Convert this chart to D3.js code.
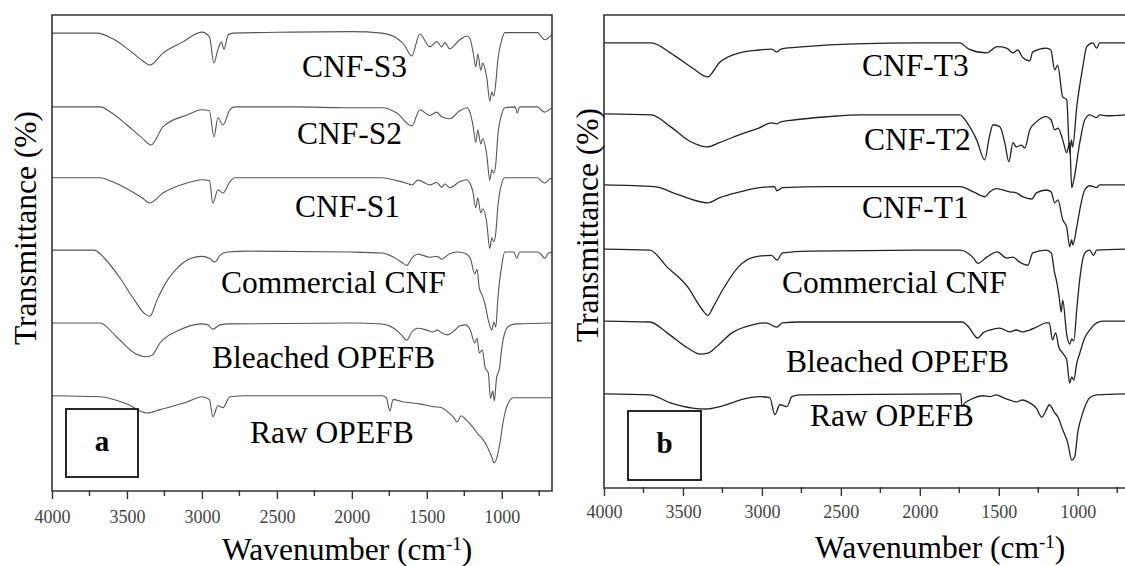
<!DOCTYPE html>
<html>
<head>
<meta charset="utf-8">
<script src="https://cdn.jsdelivr.net/npm/d3@7"></script>
<style>
  body { margin: 0; background: #fff; }
  svg { display: block; }
  text { font-family: "Liberation Serif", "Times New Roman", serif; }
</style>
</head>
<body>
<div id="container"></div>
<script>
// tick values shared by both panels
const majorTicks = [4000, 3500, 3000, 2500, 2000, 1500, 1000];
const minorTicks = [3750, 3250, 2750, 2250, 1750, 1250, 750];

// panel a : sulfuric acid series, [wavenumber, change in transmittance]
const samplesA = ["CNF-S3", "CNF-S2", "CNF-S1", "Commercial CNF", "Bleached OPEFB", "Raw OPEFB"];
const offsetsA = [96.2, 80.7, 65.8, 50.6, 35.3, 20.0];

const cnfS3 = [[4000,0],[3700,0],[3600,-1.1],[3500,-3.2],[3400,-5.7],[3347,-6.7],[3260,-4.2],[3130,-1.9],[3000,0.2],[2950,-0.8],[2920,-6.3],[2895,-3.6],[2870,-1.9],[2853,-3.4],[2825,-0.4],[2790,0],[2400,0.2],[2000,0.3],[1800,0],[1700,-1.1],[1650,-2.5],[1600,-4.8],[1547,-0.2],[1480,-2.9],[1433,-1.8],[1400,-2.9],[1380,-2.0],[1347,-3.3],[1280,-1.4],[1233,-0.6],[1213,-1.1],[1193,-3.7],[1173,-7.1],[1160,-4.4],[1140,-7.8],[1127,-6.3],[1100,-9.4],[1080,-14.3],[1067,-12.4],[1053,-13.2],[1040,-10.5],[1027,-5.9],[1000,-1.4],[980,0.1],[760,0.1],[740,-0.6],[713,-1.4],[693,-1.1],[667,-0.3]];
const cnfS2 = [[4000,0],[3680,0],[3600,-1.3],[3500,-3.8],[3400,-6.5],[3340,-8.0],[3260,-4.2],[3100,-1.7],[3000,-0.6],[2950,-0.8],[2920,-6.3],[2893,-2.3],[2860,-3.8],[2813,-0.6],[2780,0],[2400,0],[2000,-0.2],[1800,-0.2],[1700,-1.3],[1600,-4.0],[1547,-0.6],[1480,-1.8],[1433,-1.1],[1400,-2.1],[1347,-2.5],[1280,-0.8],[1233,-0.2],[1213,-1.1],[1193,-3.7],[1173,-7.5],[1160,-4.8],[1140,-7.8],[1127,-6.7],[1100,-10.1],[1080,-15.4],[1067,-13.2],[1053,-13.9],[1040,-12.0],[1027,-6.3],[1000,-1.5],[980,-0.2],[910,0],[897,-1.3],[880,0],[760,0],[740,-0.6],[713,-1.1],[693,-0.8],[667,-0.2]];
const cnfS1 = [[4000,0],[3680,0],[3600,-0.8],[3500,-2.3],[3400,-4.2],[3347,-5.3],[3260,-3.2],[3100,-1.1],[3000,-0.4],[2950,-0.6],[2927,-5.3],[2893,-2.5],[2860,-3.2],[2813,-0.8],[2780,0],[2400,0],[1800,0],[1700,-0.6],[1630,-1.2],[1600,-1.5],[1560,-0.5],[1480,-1.5],[1433,-1.0],[1400,-2.0],[1380,-1.3],[1347,-2.1],[1280,-0.8],[1233,-0.4],[1213,-1.1],[1193,-2.9],[1173,-6.3],[1160,-4.2],[1140,-7.4],[1127,-6.5],[1100,-9.5],[1080,-14.9],[1067,-12.6],[1053,-13.4],[1040,-11.6],[1027,-6.3],[1000,-1.1],[980,0],[760,0],[740,-0.6],[713,-1.1],[693,-0.6],[667,0]];
const commercialA = [[4000,0],[3720,0],[3650,-1.7],[3550,-5.7],[3450,-10.5],[3380,-13.4],[3347,-13.9],[3300,-10.5],[3230,-6.3],[3160,-3.6],[3100,-2.1],[3000,-1.3],[2950,-1.7],[2913,-2.5],[2880,-1.1],[2830,-0.4],[2700,-0.2],[2000,-0.4],[1800,-0.6],[1720,-1.5],[1670,-2.5],[1633,-3.2],[1600,-1.7],[1560,-0.8],[1480,-1.5],[1430,-1.3],[1400,-1.9],[1350,-0.8],[1300,-0.4],[1250,-0.6],[1210,-1.7],[1180,-5.0],[1165,-4.0],[1150,-8.0],[1130,-9.5],[1110,-11.6],[1090,-14.7],[1067,-16.8],[1053,-15.1],[1040,-16.2],[1027,-10.5],[1000,-3.2],[980,-0.4],[920,-0.4],[900,-1.7],[880,-0.4],[760,-0.4],[740,-0.8],[713,-1.7],[693,-0.8],[667,-0.4]];
const bleachedA = [[4000,0],[3680,0],[3570,-2.9],[3440,-6.5],[3367,-7.1],[3330,-6.7],[3280,-4.2],[3150,-1.5],[3000,-0.2],[2960,-0.4],[2927,-1.3],[2880,-0.4],[2820,-0.2],[2000,0],[1800,-0.2],[1720,-1.1],[1670,-2.5],[1633,-3.6],[1600,-1.9],[1560,-1.1],[1500,-1.5],[1460,-1.9],[1430,-1.5],[1400,-2.1],[1360,-2.5],[1320,-1.7],[1280,-0.6],[1240,-0.4],[1210,-1.5],[1180,-4.2],[1165,-3.2],[1150,-6.3],[1130,-5.7],[1110,-9.5],[1090,-10.5],[1075,-15.8],[1060,-14.3],[1050,-16.4],[1035,-11.6],[1015,-9.5],[1000,-5.3],[980,-2.1],[950,-0.6],[900,-0.2],[667,0]];
const rawA = [[4000,0],[3680,-0.2],[3500,-1.7],[3367,-3.6],[3280,-2.9],[3100,-1.3],[3000,-0.2],[2950,-0.8],[2927,-4.4],[2893,-2.1],[2860,-2.5],[2813,-0.2],[2700,0],[1800,0],[1770,-0.4],[1747,-3.2],[1725,-0.8],[1650,-1.3],[1550,-1.7],[1450,-2.3],[1400,-2.5],[1360,-3.4],[1320,-4.6],[1300,-5.5],[1270,-4.2],[1240,-5.0],[1200,-6.3],[1160,-8.0],[1130,-9.0],[1100,-10.5],[1070,-12.6],[1050,-14.1],[1035,-13.2],[1010,-9.5],[990,-5.3],[960,-1.7],[920,-0.4],[667,-0.4]];

// panel b : TEMPO series
const samplesB = ["CNF-T3", "CNF-T2", "CNF-T1", "Commercial CNF", "Bleached OPEFB", "Raw OPEFB"];
const offsetsB = [94.1, 79.1, 64.1, 50.5, 35.3, 19.9];

const cnfT3 = [[4000,0],[3700,0],[3580,-2.1],[3440,-5.3],[3342,-7.2],[3310,-6.1],[3270,-4.2],[3140,-2.1],[3020,-1.5],[2940,-1.3],[2905,-1.9],[2880,-1.3],[2730,-0.8],[2410,-0.2],[2000,0],[1747,0],[1690,-1.3],[1576,-2.1],[1510,-0.8],[1450,-1.1],[1410,-2.1],[1380,-1.5],[1350,-3.0],[1304,-3.8],[1285,-1.9],[1200,-1.1],[1170,-1.5],[1146,-5.7],[1127,-4.7],[1095,-11.4],[1070,-12.0],[1051,-23.3],[1040,-20.5],[1032,-22.0],[1006,-13.5],[968,-5.1],[943,-0.8],[905,0],[880,-1.1],[861,0],[700,0]];
const cnfT2 = [[4000,0],[3700,-0.2],[3580,-2.7],[3450,-5.9],[3348,-7.0],[3270,-6.1],[3140,-4.4],[3020,-3.0],[2940,-1.9],[2905,-2.1],[2880,-1.7],[2800,-1.3],[2580,-0.6],[2370,-0.2],[1747,-0.2],[1700,-1.9],[1640,-5.5],[1589,-9.7],[1560,-4.9],[1536,-2.3],[1494,-2.7],[1462,-6.1],[1436,-10.1],[1410,-6.1],[1389,-7.0],[1357,-6.6],[1335,-7.2],[1304,-3.4],[1262,-1.7],[1199,-0.6],[1168,-1.3],[1146,-3.4],[1125,-3.0],[1095,-5.5],[1070,-8.2],[1051,-6.1],[1038,-15.6],[1025,-14.0],[987,-6.1],[956,-1.3],[924,-0.2],[880,-0.8],[861,-0.2],[816,-0.4],[700,-0.2]];
const cnfT1 = [[4000,0],[3680,-0.4],[3530,-2.1],[3342,-3.8],[3266,-2.7],[3139,-1.5],[3013,-0.6],[2920,-0.4],[2905,-1.3],[2870,-0.6],[2589,-0.4],[2000,-0.4],[1747,-0.4],[1660,-1.5],[1589,-2.5],[1557,-1.5],[1515,-0.8],[1430,-1.5],[1389,-1.7],[1350,-2.5],[1291,-3.0],[1262,-1.7],[1199,-1.1],[1168,-1.5],[1146,-3.8],[1125,-3.2],[1095,-7.4],[1070,-8.9],[1051,-13.1],[1038,-11.6],[1032,-12.7],[1006,-8.9],[987,-5.3],[956,-1.1],[924,-0.2],[880,-0.6],[861,0],[700,0]];
const commercialB = [[4000,0],[3710,-0.2],[3600,-3.8],[3470,-8.0],[3380,-12.7],[3342,-14.0],[3310,-12.3],[3250,-8.7],[3150,-3.8],[3050,-1.7],[2940,-1.3],[2905,-2.3],[2870,-0.8],[2700,-0.4],[2000,-0.2],[1747,-0.2],[1660,-1.9],[1633,-3.0],[1576,-1.7],[1510,-0.6],[1450,-1.9],[1410,-1.7],[1370,-2.7],[1316,-3.4],[1285,-0.8],[1200,-0.2],[1168,-0.8],[1146,-5.1],[1135,-6.6],[1115,-10.8],[1105,-13.3],[1095,-10.8],[1070,-18.0],[1051,-20.1],[1038,-19.0],[1025,-19.4],[1006,-12.7],[987,-6.3],[968,-2.1],[950,-0.6],[924,-0.2],[900,-1.3],[880,-0.2],[700,0]];
const bleachedB = [[4000,0],[3710,-0.2],[3600,-2.5],[3470,-5.7],[3390,-7.0],[3342,-6.8],[3290,-5.5],[3190,-2.5],[3060,-0.8],[2975,-0.4],[2905,-1.3],[2870,-0.4],[2760,-0.2],[1730,-0.2],[1690,-1.3],[1633,-3.6],[1600,-2.5],[1557,-1.9],[1494,-1.5],[1430,-2.3],[1389,-1.9],[1350,-2.3],[1304,-1.9],[1262,-1.3],[1199,-0.4],[1180,-0.4],[1160,-4.0],[1140,-2.5],[1120,-5.5],[1095,-6.8],[1070,-8.2],[1051,-13.1],[1038,-11.8],[1025,-12.5],[1006,-8.9],[987,-6.8],[956,-3.6],[924,-1.9],[880,-0.4],[840,0],[700,0]];
const rawB = [[4000,0],[3710,-0.2],[3580,-1.9],[3440,-3.0],[3350,-3.2],[3266,-2.7],[3139,-1.3],[3013,-0.6],[2950,-0.8],[2918,-4.4],[2886,-2.3],[2842,-2.7],[2810,-0.6],[2760,-0.2],[1760,0],[1740,0],[1734,-2.7],[1715,-1.9],[1684,-1.3],[1600,-0.4],[1557,-0.6],[1515,-0.2],[1473,-0.8],[1430,-1.3],[1389,-1.7],[1350,-1.3],[1304,-1.9],[1262,-3.0],[1228,-4.9],[1199,-3.4],[1180,-2.3],[1146,-4.0],[1125,-4.9],[1095,-7.6],[1063,-10.4],[1038,-14.0],[1019,-13.3],[1000,-8.2],[968,-4.0],[924,-0.8],[880,-0.2],[700,0]];

const width = 1125;
const height = 566;

const svg = d3.select("#container").append("svg")
  .attr("width", width).attr("height", height);

// one panel = frame, bottom axis, spectra, labels
function drawPanel(cfg) {
  const x = d3.scaleLinear().domain([4000, cfg.xEnd]).range([cfg.left, cfg.right]);
  const y = d3.scaleLinear().domain([0, 100]).range([cfg.bottom, cfg.top]);
  const g = svg.append("g");

  const line = d3.line()
    .x(d => x(d[0]))
    .y(d => y(d[1]))
    .curve(d3.curveMonotoneX);

  cfg.traces.forEach((tr, i) => {
    g.append("path")
      .datum(tr.map(p => [p[0], cfg.offsets[i] + p[1]]))
      .attr("d", line)
      .attr("fill", "none")
      .attr("stroke", cfg.lineColor)
      .attr("stroke-width", cfg.lineWidth)
      .attr("stroke-linejoin", "round");
  });

  // frame
  g.append("path")
    .attr("d", `M${cfg.right},${cfg.top}H${cfg.left}V${cfg.bottom}H${cfg.right}` + (cfg.closed ? "Z" : ""))
    .attr("fill", "none").attr("stroke", "#333").attr("stroke-width", 1.6);

  // x axis
  const axis = g.append("g").attr("transform", `translate(0,${cfg.bottom})`)
    .call(d3.axisBottom(x).tickValues(majorTicks).tickSize(8).tickFormat(d3.format("d")));
  axis.select(".domain").remove();
  axis.selectAll(".tick line").attr("stroke", "#333").attr("stroke-width", 1.4);
  axis.selectAll(".tick text")
    .attr("font-family", "Liberation Serif, serif")
    .attr("font-size", 18).attr("fill", "#444")
    .attr("y", cfg.tickLabelDy).attr("dy", 0);
  g.append("g").selectAll("line").data(minorTicks).join("line")
    .attr("x1", d => x(d)).attr("x2", d => x(d))
    .attr("y1", cfg.bottom - 1).attr("y2", cfg.bottom + 5)
    .attr("stroke", "#333").attr("stroke-width", 1.4);

  // sample names
  cfg.samples.forEach((s, i) => {
    g.append("text")
      .attr("x", cfg.labelPos[i][0]).attr("y", cfg.labelPos[i][1])
      .attr("font-size", 31.5).attr("fill", "#000")
      .text(s);
  });

  // axis titles
  const xt = g.append("text")
    .attr("x", cfg.xTitle[0]).attr("y", cfg.xTitle[1])
    .attr("font-size", 31.5).attr("fill", "#000");
  xt.append("tspan").text("Wavenumber (cm");
  xt.append("tspan").attr("font-size", 19).attr("baseline-shift", "super").text("-1");
  xt.append("tspan").text(")");

  g.append("text")
    .attr("transform", `translate(${cfg.yTitle[0]},${cfg.yTitle[1]}) rotate(-90)`)
    .attr("text-anchor", "middle")
    .attr("font-size", 31.5).attr("fill", "#000")
    .text("Transmittance (%)");

  // panel letter box
  g.append("rect")
    .attr("x", cfg.box[0]).attr("y", cfg.box[1])
    .attr("width", cfg.box[2]).attr("height", cfg.box[3])
    .attr("fill", "none").attr("stroke", "#111").attr("stroke-width", 1.8);
  g.append("text")
    .attr("x", cfg.box[0] + cfg.box[2] / 2).attr("y", cfg.box[1] + 42)
    .attr("text-anchor", "middle")
    .attr("font-size", 29).attr("font-weight", "bold").attr("fill", "#000")
    .text(cfg.letter);
}

drawPanel({
  left: 52, right: 552, top: 15, bottom: 491, xEnd: 665, closed: true,
  traces: [cnfS3, cnfS2, cnfS1, commercialA, bleachedA, rawA],
  offsets: offsetsA, samples: samplesA,
  lineColor: "#555", lineWidth: 1.1,
  labelPos: [[302, 77], [297, 144], [295, 217], [221, 293], [212, 368], [250, 443]],
  xTitle: [222, 560], yTitle: [36, 228], tickLabelDy: 32,
  box: [66, 409, 72, 68], letter: "a"
});

drawPanel({
  left: 604, right: 1133, top: 15, bottom: 488, xEnd: 650, closed: false,
  traces: [cnfT3, cnfT2, cnfT1, commercialB, bleachedB, rawB],
  offsets: offsetsB, samples: samplesB,
  lineColor: "#222", lineWidth: 1.3,
  labelPos: [[862, 76], [864, 150], [862, 218], [782, 293], [786, 372], [810, 426]],
  xTitle: [815, 558], yTitle: [598, 225], tickLabelDy: 30,
  box: [628, 411, 73, 69], letter: "b"
});
</script>
</body>
</html>
